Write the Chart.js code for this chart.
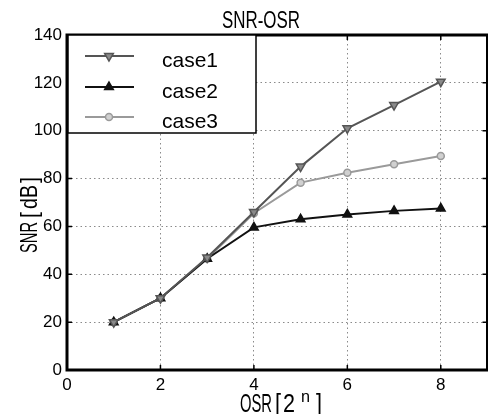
<!DOCTYPE html>
<html><head><meta charset="utf-8">
<script src="https://cdn.jsdelivr.net/npm/chart.js@4/dist/chart.umd.min.js"></script>
<style>html,body{margin:0;padding:0;overflow:hidden;background:#fff;width:488px;height:414px}canvas{display:block}</style>
</head><body>
<div style="width:494px;height:414px"><canvas id="c" width="494" height="414"></canvas></div>
<script>
const osr = [1, 2, 3, 4, 5, 6, 7, 8];
const case1 = [20, 30, 47, 66, 85, 101, 110.7, 120.5];
const case2 = [20, 30, 46.5, 59.6, 63, 65, 66.5, 67.5];
const case3 = [20, 30, 46.5, 65.5, 78.3, 82.4, 86, 89.4];
const seriesNames = ['case1', 'case2', 'case3'];
const xTicks = [0, 2, 4, 6, 8];
const yTicks = [0, 20, 40, 60, 80, 100, 120, 140];
const titleText = 'SNR-OSR';
const xTitleParts = ['OSR', '[', '2', 'n', ']'];
const yTitleParts = ['SNR', '[', 'dB', ']'];

const FONT = "'Liberation Sans',Arial,sans-serif";

function pts(arr){ return osr.map((x,i)=>({x:x,y:arr[i]})); }

const datasets = [
  {label:seriesNames[0], data:pts(case1), borderColor:'#555', backgroundColor:'#8a8a8a', pointStyle:'triangle', rotation:180, pointRadius:5, pointBorderWidth:1.5, borderWidth:2},
  {label:seriesNames[1], data:pts(case2), borderColor:'#111', backgroundColor:'#111', pointStyle:'triangle', pointRadius:5, pointBorderWidth:1.5, borderWidth:2},
  {label:seriesNames[2], data:pts(case3), borderColor:'#9a9a9a', backgroundColor:'#d0d0d0', pointStyle:'circle', pointRadius:3.5, pointBorderWidth:1.5, borderWidth:2}
];

// draw text squeezed horizontally to a target width (condensed look)
function fitText(ctx, text, x, y, w){
  const m = ctx.measureText(text).width;
  ctx.save(); ctx.translate(x, y); ctx.scale(w / m, 1);
  ctx.textAlign = 'left'; ctx.fillText(text, 0, 0); ctx.restore();
}

const decor = {
  id:'decor',
  afterDraw(chart){
    const ctx = chart.ctx, a = chart.chartArea;
    const sx = chart.scales.x, sy = chart.scales.y;
    ctx.save();
    // plot box
    ctx.strokeStyle = '#000'; ctx.lineWidth = 3;
    ctx.strokeRect(a.left, a.top, a.right - a.left, a.bottom - a.top);
    // inward tick marks
    ctx.lineWidth = 1.5;
    ctx.beginPath();
    xTicks.forEach(v => { const px = sx.getPixelForValue(v);
      ctx.moveTo(px, a.bottom); ctx.lineTo(px, a.bottom - 5);
      ctx.moveTo(px, a.top); ctx.lineTo(px, a.top + 5); });
    yTicks.forEach(v => { const py = sy.getPixelForValue(v);
      ctx.moveTo(a.left, py); ctx.lineTo(a.left + 5, py);
      ctx.moveTo(a.right, py); ctx.lineTo(a.right - 5, py); });
    ctx.stroke();
    ctx.fillStyle = '#000';
    ctx.textBaseline = 'alphabetic';
    // title
    ctx.font = '23px ' + FONT;
    fitText(ctx, titleText, 222, 28, 78);
    // x title
    ctx.font = '25px ' + FONT;
    fitText(ctx, xTitleParts[0], 240, 412, 32);
    fitText(ctx, xTitleParts[1], 275, 412, 6);
    fitText(ctx, xTitleParts[2], 283, 412, 12);
    ctx.font = '16px ' + FONT;
    fitText(ctx, xTitleParts[3], 301, 402, 9);
    ctx.font = '25px ' + FONT;
    fitText(ctx, xTitleParts[4], 316, 412, 6);
    // y title (rotated)
    ctx.save();
    ctx.translate(37, 253); ctx.rotate(-Math.PI/2);
    ctx.font = '24px ' + FONT;
    fitText(ctx, yTitleParts[0], 0, 0, 31);
    fitText(ctx, yTitleParts[1], 35, 0, 6);
    fitText(ctx, yTitleParts[2], 44, 0, 24);
    fitText(ctx, yTitleParts[3], 70, 0, 6);
    ctx.restore();
    // legend
    const lx = a.left + 1, ly = a.top, lw = 188, lh = 98;
    ctx.fillStyle = '#fff';
    ctx.fillRect(lx, ly, lw, lh);
    ctx.strokeStyle = '#000'; ctx.lineWidth = 1.5;
    ctx.strokeRect(lx, ly, lw, lh);
    const rows = [56, 87, 117];
    chart.data.datasets.forEach((ds, i) => {
      const y = rows[i];
      ctx.strokeStyle = ds.borderColor; ctx.lineWidth = 2;
      ctx.beginPath(); ctx.moveTo(85, y); ctx.lineTo(134, y); ctx.stroke();
      ctx.fillStyle = ds.backgroundColor; ctx.strokeStyle = ds.borderColor; ctx.lineWidth = ds.pointBorderWidth;
      Chart.helpers.drawPoint(ctx, {pointStyle: ds.pointStyle, rotation: ds.rotation || 0, radius: ds.pointRadius, borderWidth: ds.pointBorderWidth}, 109, y);
      ctx.fillStyle = '#000';
      ctx.font = '21px ' + FONT;
      ctx.textAlign = 'left'; ctx.textBaseline = 'alphabetic';
      fitText(ctx, ds.label, 162, y + 11, 56);
    });
    ctx.restore();
  }
};

new Chart(document.getElementById('c'), {
  type:'line',
  data:{datasets:datasets},
  options:{
    responsive:false, animation:false,
    layout:{padding:{top:35, right:4, left:0, bottom:0}},
    plugins:{legend:{display:false}, title:{display:false}, tooltip:{enabled:false}},
    scales:{
      x:{type:'linear', min:0, max:9,
         afterFit(s){ s.height = 44; },
         afterBuildTicks(s){ s.ticks = xTicks.map(v=>({value:v})); },
         grid:{color:'#8a8a8a', lineWidth:1, drawTicks:false},
         border:{display:false, dash:[1.5,3]},
         ticks:{font:{family:FONT, size:17}, color:'#000', padding:5, maxRotation:0}
      },
      y:{type:'linear', min:0, max:140,
         afterFit(s){ s.width = 67; },
         afterBuildTicks(s){ s.ticks = yTicks.map(v=>({value:v})); },
         grid:{color:'#8a8a8a', lineWidth:1, drawTicks:false},
         border:{display:false, dash:[1.5,3]},
         ticks:{font:{family:FONT, size:17}, color:'#000', padding:5}
      }
    }
  },
  plugins:[decor]
});
</script>
</body></html>
